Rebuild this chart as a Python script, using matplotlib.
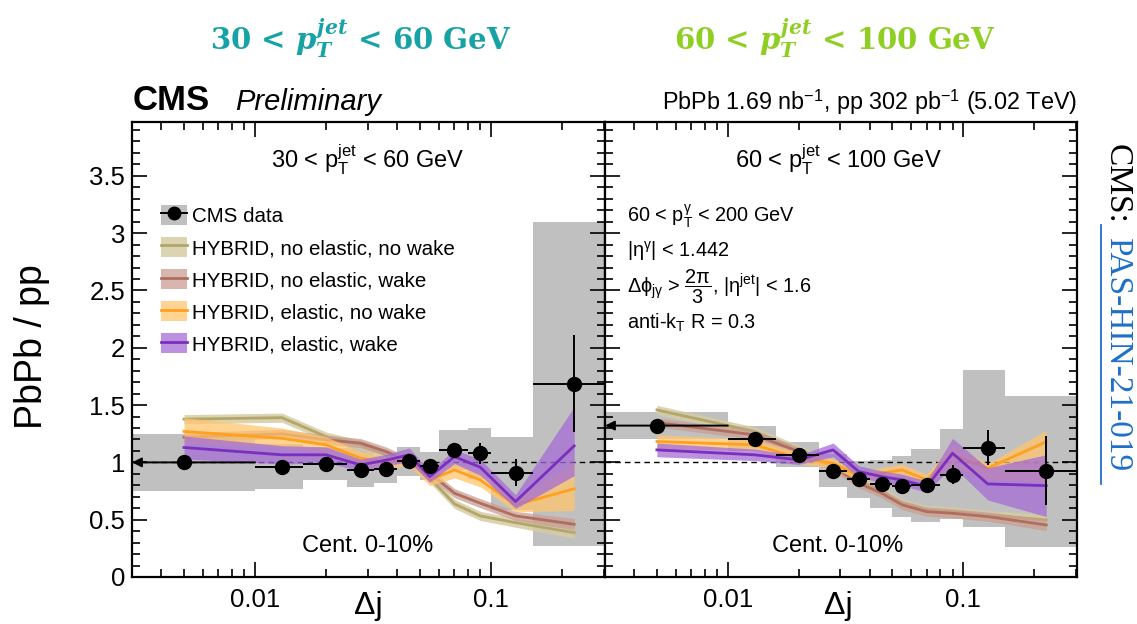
import matplotlib
matplotlib.use("Agg")
import matplotlib.pyplot as plt
from matplotlib.patches import Patch, Rectangle
from matplotlib.lines import Line2D
from matplotlib.ticker import (MultipleLocator, LogLocator, FixedLocator, FixedFormatter,
                               NullFormatter, FormatStrFormatter)

plt.rcParams['font.family'] = ['Liberation Sans', 'DejaVu Sans']
plt.rcParams['mathtext.fontset'] = 'custom'
plt.rcParams['mathtext.rm'] = 'Liberation Sans'
plt.rcParams['mathtext.sf'] = 'Liberation Sans'
plt.rcParams['mathtext.it'] = 'DejaVu Serif:italic:bold'
plt.rcParams['mathtext.bf'] = 'Liberation Sans:bold'

# ---------------- data ----------------
x_centers = [0.005, 0.013, 0.02, 0.028, 0.036, 0.045, 0.055, 0.070, 0.090, 0.127, 0.225]
bin_edges = [0.002, 0.01, 0.016, 0.0245, 0.032, 0.04, 0.05, 0.06, 0.08, 0.1, 0.15, 0.3]

# left panel: 30 < pT jet < 60 GeV
left_y = [1.0, 0.963, 0.987, 0.932, 0.94, 1.016, 0.97, 1.109, 1.08, 0.911, 1.686]
left_stat = [0.04, 0.04, 0.03, 0.03, 0.03, 0.03, 0.03, 0.04, 0.09, 0.115, 0.425]
left_syst_lo = [0.754, 0.77, 0.847, 0.783, 0.818, 0.882, 0.85, 0.934, 0.853, 0.585, 0.273]
left_syst_hi = [1.249, 1.16, 1.127, 1.133, 1.06, 1.138, 1.094, 1.284, 1.304, 1.225, 3.094]

left_noel_nowake = [1.377, 1.39, 1.225, 1.153, 1.066, 1.02, 0.862, 0.638, 0.533, 0.474, 0.387]
left_noel_nowake_hw = [0.04, 0.04, 0.04, 0.04, 0.04, 0.04, 0.04, 0.04, 0.04, 0.04, 0.05]
left_noel_wake = [1.22, 1.249, 1.197, 1.168, 1.094, 1.0, 0.905, 0.731, 0.644, 0.533, 0.46]
left_noel_wake_hw = [0.04, 0.04, 0.04, 0.04, 0.04, 0.04, 0.04, 0.04, 0.04, 0.04, 0.05]
left_el_nowake = [1.27, 1.21, 1.153, 1.037, 1.0, 1.03, 0.847, 0.934, 0.847, 0.629, 0.77]
left_el_nowake_lo = [0.10, 0.08, 0.07, 0.06, 0.05, 0.06, 0.05, 0.07, 0.06, 0.06, 0.19]
left_el_nowake_hi = [0.12, 0.09, 0.07, 0.06, 0.05, 0.06, 0.05, 0.07, 0.06, 0.06, 0.23]
left_el_wake = [1.13, 1.066, 1.066, 0.978, 1.02, 1.066, 0.876, 1.05, 0.958, 0.658, 1.144]
left_el_wake_lo = [0.10, 0.08, 0.07, 0.05, 0.05, 0.06, 0.05, 0.06, 0.07, 0.06, 0.26]
left_el_wake_hi = [0.10, 0.08, 0.07, 0.05, 0.05, 0.06, 0.05, 0.06, 0.07, 0.06, 0.34]

# right panel: 60 < pT jet < 100 GeV
right_y = [1.321, 1.208, 1.068, 0.928, 0.853, 0.812, 0.795, 0.803, 0.893, 1.129, 0.926]
right_stat = [0.05, 0.04, 0.04, 0.03, 0.03, 0.03, 0.03, 0.03, 0.085, 0.155, 0.30]
right_syst_lo = [1.203, 1.10, 0.963, 0.789, 0.693, 0.605, 0.527, 0.483, 0.51, 0.44, 0.259]
right_syst_hi = [1.444, 1.319, 1.182, 1.07, 1.01, 1.02, 1.057, 1.118, 1.293, 1.808, 1.583]

right_noel_nowake = [1.458, 1.269, 1.109, 0.978, 0.847, 0.745, 0.644, 0.585, 0.57, 0.54, 0.498]
right_noel_nowake_hw = [0.04, 0.04, 0.04, 0.04, 0.04, 0.04, 0.04, 0.04, 0.04, 0.04, 0.05]
right_noel_wake = [1.348, 1.24, 1.094, 0.963, 0.818, 0.731, 0.629, 0.57, 0.556, 0.527, 0.454]
right_noel_wake_hw = [0.04, 0.04, 0.04, 0.04, 0.04, 0.04, 0.04, 0.04, 0.04, 0.04, 0.05]
right_el_nowake = [1.182, 1.153, 1.037, 0.993, 0.882, 0.906, 0.934, 0.847, 1.066, 0.949, 1.18]
right_el_nowake_lo = [0.06, 0.05, 0.05, 0.04, 0.04, 0.05, 0.05, 0.05, 0.10, 0.10, 0.35]
right_el_nowake_hi = [0.06, 0.05, 0.05, 0.04, 0.04, 0.05, 0.05, 0.05, 0.10, 0.04, 0.10]
right_el_wake = [1.109, 1.066, 1.022, 1.109, 0.92, 0.876, 0.847, 0.789, 1.08, 0.812, 0.797]
right_el_wake_lo = [0.06, 0.05, 0.04, 0.06, 0.05, 0.05, 0.05, 0.05, 0.11, 0.14, 0.27]
right_el_wake_hi = [0.06, 0.05, 0.04, 0.06, 0.05, 0.05, 0.05, 0.05, 0.13, 0.14, 0.27]

legend_labels = ["CMS data", "HYBRID, no elastic, no wake", "HYBRID, no elastic, wake",
                 "HYBRID, elastic, no wake", "HYBRID, elastic, wake"]

band_colors = ['#d6cca3', '#c99e92', '#ffc56c', '#a56cd6']
line_colors = ['#b2a66a', '#b06e60', '#ffa01e', '#7a2fbf']
band_alphas = [0.85, 0.75, 0.75, 0.75]
gray = '#c0c0c0'

XMIN, XMAX = 0.00301, 0.304
YMIN, YMAX = 0.0, 3.97

W, H = 1137, 624
fig = plt.figure(figsize=(W / 100, H / 100), dpi=100)

def ax_rect(x0, x1, y_top, y_bot):
    return [x0 / W, 1 - y_bot / H, (x1 - x0) / W, (y_bot - y_top) / H]

axL = fig.add_axes(ax_rect(132, 605, 122, 577))
axR = fig.add_axes(ax_rect(605, 1077, 122, 577))

def draw_panel(ax, y, stat, slo, shi, models, show_labels):
    ax.set_xscale('log')
    ax.set_xlim(XMIN, XMAX)
    ax.set_ylim(YMIN, YMAX)
    for i in range(len(x_centers)):
        ax.add_patch(Rectangle((bin_edges[i], slo[i]), bin_edges[i + 1] - bin_edges[i],
                               shi[i] - slo[i], facecolor=gray, edgecolor='none', zorder=1))
    ax.axhline(1.0, color='k', ls=(0, (4, 3)), lw=1.0, zorder=2)
    for k, (c, lo, hi) in enumerate(models):
        low = [ci - l for ci, l in zip(c, lo)]
        high = [ci + h for ci, h in zip(c, hi)]
        ax.fill_between(x_centers, low, high, color=band_colors[k], alpha=band_alphas[k],
                        lw=0, zorder=3 + k)
        ax.plot(x_centers, c, color=line_colors[k], lw=2.0, zorder=3 + k)
    xl = [x_centers[i] - bin_edges[i] for i in range(len(x_centers))]
    xh = [bin_edges[i + 1] - x_centers[i] for i in range(len(x_centers))]
    xl[0] = 0
    xh[0] = 0
    ax.errorbar(x_centers, y, yerr=stat, xerr=[xl, xh], fmt='o', color='k', ms=10,
                elinewidth=1.4, capsize=0, zorder=10)
    ax.annotate('', xy=(XMIN, y[0]), xytext=(bin_edges[1], y[0]),
                arrowprops=dict(arrowstyle='-|>', color='k', lw=1.4, mutation_scale=14,
                                shrinkA=0, shrinkB=0), zorder=10)
    ax.yaxis.set_major_locator(MultipleLocator(0.5))
    ax.yaxis.set_minor_locator(MultipleLocator(0.1))
    ax.yaxis.set_major_formatter(FormatStrFormatter('%g'))
    ax.xaxis.set_major_locator(FixedLocator([0.01, 0.1]))
    ax.xaxis.set_major_formatter(FixedFormatter(['0.01', '0.1']))
    ax.xaxis.set_minor_locator(LogLocator(base=10, subs=range(2, 10), numticks=20))
    ax.xaxis.set_minor_formatter(NullFormatter())
    ax.tick_params(axis='both', which='both', direction='in', top=True, right=True,
                   labelsize=18.5, width=1.2)
    ax.tick_params(axis='y', which='major', length=11, pad=5)
    ax.tick_params(axis='y', which='minor', length=5.5)
    ax.tick_params(axis='x', which='major', length=11, pad=8)
    ax.tick_params(axis='x', which='minor', length=6)
    if not show_labels:
        ax.tick_params(axis='y', labelleft=False)
    for s in ax.spines.values():
        s.set_linewidth(1.6)

draw_panel(axL, left_y, left_stat, left_syst_lo, left_syst_hi,
           [(left_noel_nowake, left_noel_nowake_hw, left_noel_nowake_hw),
            (left_noel_wake, left_noel_wake_hw, left_noel_wake_hw),
            (left_el_nowake, left_el_nowake_lo, left_el_nowake_hi),
            (left_el_wake, left_el_wake_lo, left_el_wake_hi)], True)
draw_panel(axR, right_y, right_stat, right_syst_lo, right_syst_hi,
           [(right_noel_nowake, right_noel_nowake_hw, right_noel_nowake_hw),
            (right_noel_wake, right_noel_wake_hw, right_noel_wake_hw),
            (right_el_nowake, right_el_nowake_lo, right_el_nowake_hi),
            (right_el_wake, right_el_wake_lo, right_el_wake_hi)], False)

# legend
handles = [(Patch(facecolor=gray, edgecolor='none'),
            Line2D([], [], color='k', marker='o', ms=9, lw=1.4))]
for k in range(4):
    handles.append((Patch(facecolor=band_colors[k], alpha=band_alphas[k], edgecolor='none'),
                    Line2D([], [], color=line_colors[k], lw=2.0)))
axL.legend(handles, legend_labels, loc='upper left', bbox_to_anchor=(0.061, 0.818),
           frameon=False, fontsize=14.8, borderpad=0, borderaxespad=0, handlelength=1.25,
           handleheight=1.15, handletextpad=0.25, labelspacing=0.53)

def ftext(px, py, s, **kw):
    return fig.text(px / W, 1 - py / H, s, **kw)

# axis labels
ftext(32, 347, 'PbPb / pp', fontsize=27, rotation=90, ha='center', va='center')
ftext(368, 606, 'Δj', fontsize=23, ha='center', va='center')
ftext(838, 606, 'Δj', fontsize=23, ha='center', va='center')

# panel texts
ftext(368, 160, r'30 < $\mathrm{p}_\mathrm{T}^\mathrm{jet}$ < 60 GeV', fontsize=17, ha='center', va='center')
ftext(838, 160, r'60 < $\mathrm{p}_\mathrm{T}^\mathrm{jet}$ < 100 GeV', fontsize=17, ha='center', va='center')
ftext(368, 546, 'Cent. 0-10%', fontsize=17, ha='center', va='center')
ftext(838, 546, 'Cent. 0-10%', fontsize=17, ha='center', va='center')

ftext(627, 216, r'60 < $\mathrm{p}_\mathrm{T}^{\mathrm{\gamma}}$ < 200 GeV', fontsize=14.3, ha='left', va='center')
ftext(627, 251, r'|$\mathrm{\eta}^{\mathrm{\gamma}}$| < 1.442', fontsize=14.3, ha='left', va='center')
ftext(627, 287, r'$\mathrm{\Delta\phi}_{\mathrm{j\gamma}}$ > $\dfrac{\mathrm{2\pi}}{\mathrm{3}}$, |$\mathrm{\eta}^{\mathrm{jet}}$| < 1.6',
      fontsize=14.3, ha='left', va='center')
ftext(627, 323, r'anti-$\mathrm{k}_\mathrm{T}$ R = 0.3', fontsize=14.3, ha='left', va='center')

# header
ftext(133, 100, 'CMS', fontsize=25, fontweight='bold', ha='left', va='center')
ftext(235, 102, 'Preliminary', fontsize=21, fontstyle='italic', ha='left', va='center')
ftext(1077, 102, r'PbPb 1.69 nb$^{\mathrm{-1}}$, pp 302 pb$^{\mathrm{-1}}$ (5.02 TeV)', fontsize=16.8,
      ha='right', va='center')

# top colored titles
ftext(361, 38, r'30 < $\mathit{p_T^{jet}}$ < 60 GeV', fontsize=21, fontweight='bold',
      family='DejaVu Serif', color='#17a3a6', ha='center', va='center')
ftext(835, 38, r'60 < $\mathit{p_T^{jet}}$ < 100 GeV', fontsize=21, fontweight='bold',
      family='DejaVu Serif', color='#8fce23', ha='center', va='center')

# vertical side label
ftext(1117, 184, 'CMS:', fontsize=24, family='Liberation Serif', rotation=-90,
      ha='center', va='center', color='k')
ftext(1117, 354, 'PAS-HIN-21-019', fontsize=24, family='Liberation Serif', rotation=-90,
      ha='center', va='center', color='#1f6fc8')
fig.add_artist(Line2D([1101 / W, 1101 / W], [1 - 225 / H, 1 - 484 / H], color='#1f6fc8', lw=1.3))

fig.savefig('out.png', dpi=100)
